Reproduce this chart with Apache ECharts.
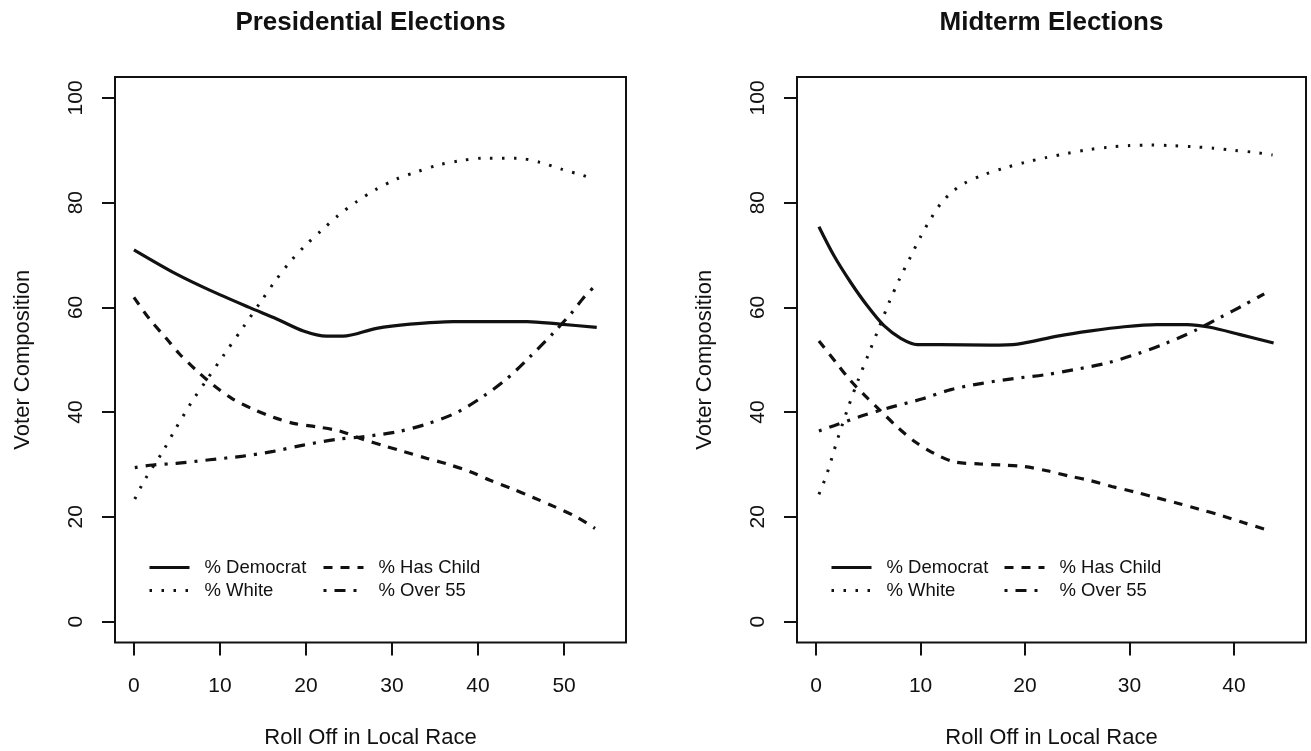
<!DOCTYPE html>
<html>
<head>
<meta charset="utf-8">
<script src="https://cdn.jsdelivr.net/npm/echarts@6/dist/echarts.min.js"></script>
<style>html,body{margin:0;padding:0;background:#fff}#c{width:1311px;height:751px}</style>
</head>
<body>
<div id="c"></div>
<script>
// ---- data ----
const panelTitles = ['Presidential Elections', 'Midterm Elections'];
const seriesNames = ['% Democrat', '% White', '% Has Child', '% Over 55'];
const xTicksPres = [0, 10, 20, 30, 40, 50];
const xTicksMid = [0, 10, 20, 30, 40];
const yTicks = [0, 20, 40, 60, 80, 100];
const xTitle = 'Roll Off in Local Race';
const yTitle = 'Voter Composition';

const presDemocrat = [[0,71.0],[4.9,66.4],[8.8,63.3],[13.4,60.0],[16.6,57.8],[19.7,55.5],[22.4,54.5],[24.3,54.5],[28.2,56.0],[32.1,56.8],[37.1,57.3],[45.7,57.3],[49.5,56.8],[53.8,56.2]];
const presWhite = [[0.1,23.4],[1.2,26.9],[3.4,32.6],[4.7,36.4],[6.7,41.9],[8.4,46.0],[10.4,50.8],[12.7,56.2],[14.8,61.2],[16.4,65.0],[18.1,68.6],[19.9,71.8],[21.8,74.7],[23.7,77.5],[25.9,80.2],[28.0,82.4],[30.5,84.5],[32.9,85.9],[35.4,87.2],[37.9,88.0],[40.6,88.5],[44.5,88.5],[47.2,87.7],[49.7,86.4],[52.2,85.2],[53.6,84.4]];
const presChild = [[0,61.9],[1.8,57.8],[3.8,54.0],[5.3,51.1],[7.3,47.9],[9.2,45.2],[11.5,42.5],[13.8,40.6],[16.2,39.0],[18.7,37.8],[21.2,37.2],[23.9,36.4],[26.6,34.8],[29.0,33.6],[31.3,32.5],[34.0,31.2],[36.4,30.1],[39.1,28.6],[41.4,27.0],[43.9,25.4],[46.4,23.7],[48.8,22.0],[51.3,20.1],[53.6,17.8]];
const presOver55 = [[0.1,29.4],[2.2,29.9],[4.9,30.2],[8.8,30.9],[12.7,31.6],[16.2,32.5],[19.7,33.7],[23.6,34.8],[26.6,35.3],[30.5,36.2],[34.0,37.7],[37.5,39.9],[40.6,43.0],[43.3,46.3],[46.0,50.5],[48.8,55.2],[50.9,59.0],[52.2,61.7],[53.6,64.1]];

const midDemocrat = [[0.27,75.4],[1.7,69.9],[3.3,64.8],[4.9,60.3],[6.5,56.5],[8.1,54.1],[9.7,52.9],[11.9,52.9],[16.7,52.8],[19.3,53.0],[23.1,54.5],[26.3,55.5],[29.5,56.3],[32.6,56.7],[35.5,56.7],[37.7,56.2],[40.6,54.8],[43.8,53.2]];
const midWhite = [[0.27,24.3],[1,28],[2,34.5],[3,40.5],[4,46],[5,51],[6,56],[7,61],[8,65.5],[9,69.5],[10,73.5],[11,77],[12,80],[13,82],[14,83.5],[16,85.3],[18,86.6],[20,87.7],[22,88.6],[24,89.4],[26,90.1],[28,90.6],[30,90.9],[32,91.0],[34,90.9],[36,90.7],[38,90.4],[40,90.0],[42,89.6],[43.7,89.1]];
const midChild = [[0.27,53.6],[1.9,49.5],[3.3,46.0],[4.7,43.1],[6.2,40.2],[7.8,37.1],[9.5,34.3],[11.3,32.1],[13.2,30.5],[15.6,30.1],[17.7,29.9],[19.9,29.6],[22.1,28.8],[24.2,27.8],[26.3,26.9],[28.3,25.8],[30.4,24.8],[32.5,23.7],[34.6,22.6],[36.6,21.5],[38.9,20.2],[40.9,18.9],[43.2,17.5]];
const midOver55 = [[0.27,36.4],[1.7,37.4],[4.4,39.3],[7.1,40.9],[10.3,42.6],[12.9,44.3],[15.9,45.5],[18.9,46.4],[21.8,47.1],[24.7,48.1],[27.9,49.4],[30.7,51.1],[33.3,53.0],[36.2,55.5],[38.7,58.1],[41.1,60.6],[42.9,62.6]];

// ---- chart ----
const FONT = 'Liberation Sans, Arial, sans-serif';
const INK = '#111';
const styles = [
  { type: 'solid', width: 3.2 },
  { type: [2.5, 9.5], width: 3 },
  { type: [9, 8], width: 3.2 },
  { type: [3, 8, 11, 8], width: 3.2 }
];

function xAxis(gridIndex, min, max, ticks) {
  return {
    type: 'value', gridIndex, min, max,
    name: xTitle, nameLocation: 'middle', nameGap: 84,
    nameTextStyle: { fontFamily: FONT, fontSize: 22, color: INK },
    axisLine: { show: false, onZero: false },
    splitLine: { show: false },
    axisTick: { show: true, inside: false, length: 13, customValues: ticks, lineStyle: { color: INK, width: 2 } },
    axisLabel: { customValues: ticks, margin: 33, fontFamily: FONT, fontSize: 21, color: INK }
  };
}
function yAxis(gridIndex) {
  return {
    type: 'value', gridIndex, min: -4, max: 104,
    name: yTitle, nameLocation: 'middle', nameGap: 81, nameRotate: 90,
    nameTextStyle: { fontFamily: FONT, fontSize: 22, color: INK },
    axisLine: { show: false, onZero: false },
    splitLine: { show: false },
    axisTick: { show: true, inside: false, length: 13, customValues: yTicks, lineStyle: { color: INK, width: 2 } },
    axisLabel: { customValues: yTicks, rotate: 90, margin: 28, fontFamily: FONT, fontSize: 21, color: INK }
  };
}
function mkSeries(name, data, k, idx) {
  return {
    name, type: 'line', data, xAxisIndex: idx, yAxisIndex: idx,
    symbol: 'none', showSymbol: false, smooth: 0.3,
    lineStyle: Object.assign({ color: INK, cap: 'butt' }, styles[k]),
    itemStyle: { color: INK },
    emphasis: { disabled: true }, animation: false
  };
}
function legend(left, top, names) {
  return {
    orient: 'vertical', left, top, padding: 0, itemGap: 4,
    itemWidth: 40, itemHeight: 14, data: names, selectedMode: false,
    itemStyle: { opacity: 0 },
    lineStyle: { width: 3 },
    textStyle: { fontFamily: FONT, fontSize: 18.5, color: INK, padding: [0, 0, 0, 10] }
  };
}

const grids = [
  { left: 115, top: 77, width: 511, height: 565.5 },
  { left: 797, top: 77, width: 509, height: 565.5 }
];
grids.forEach(g => Object.assign(g, { show: true, borderColor: INK, borderWidth: 2, backgroundColor: 'transparent', containLabel: false, outerBoundsMode: 'none' }));

const option = {
  backgroundColor: '#fff',
  animation: false,
  title: [
    { text: panelTitles[0], left: 370.5, top: 10, textAlign: 'center', padding: 0,
      textStyle: { fontFamily: FONT, fontWeight: 'bold', fontSize: 26, color: INK } },
    { text: panelTitles[1], left: 1051.5, top: 10, textAlign: 'center', padding: 0,
      textStyle: { fontFamily: FONT, fontWeight: 'bold', fontSize: 26, color: INK } }
  ],
  grid: grids,
  xAxis: [xAxis(0, -2.2, 57.2, xTicksPres), xAxis(1, -1.83, 46.9, xTicksMid)],
  yAxis: [yAxis(0), yAxis(1)],
  legend: [
    legend(148, 558, [seriesNames[0], seriesNames[1]]),
    legend(322, 558, [seriesNames[2], seriesNames[3]]),
    legend(830, 558, [seriesNames[0], seriesNames[1]]),
    legend(1003, 558, [seriesNames[2], seriesNames[3]])
  ],
  series: [
    mkSeries(seriesNames[0], presDemocrat, 0, 0),
    mkSeries(seriesNames[1], presWhite, 1, 0),
    mkSeries(seriesNames[2], presChild, 2, 0),
    mkSeries(seriesNames[3], presOver55, 3, 0),
    mkSeries(seriesNames[0], midDemocrat, 0, 1),
    mkSeries(seriesNames[1], midWhite, 1, 1),
    mkSeries(seriesNames[2], midChild, 2, 1),
    mkSeries(seriesNames[3], midOver55, 3, 1)
  ]
};
const chart = echarts.init(document.getElementById('c'), null, { renderer: 'canvas' });
chart.setOption(option);
</script>
</body>
</html>
